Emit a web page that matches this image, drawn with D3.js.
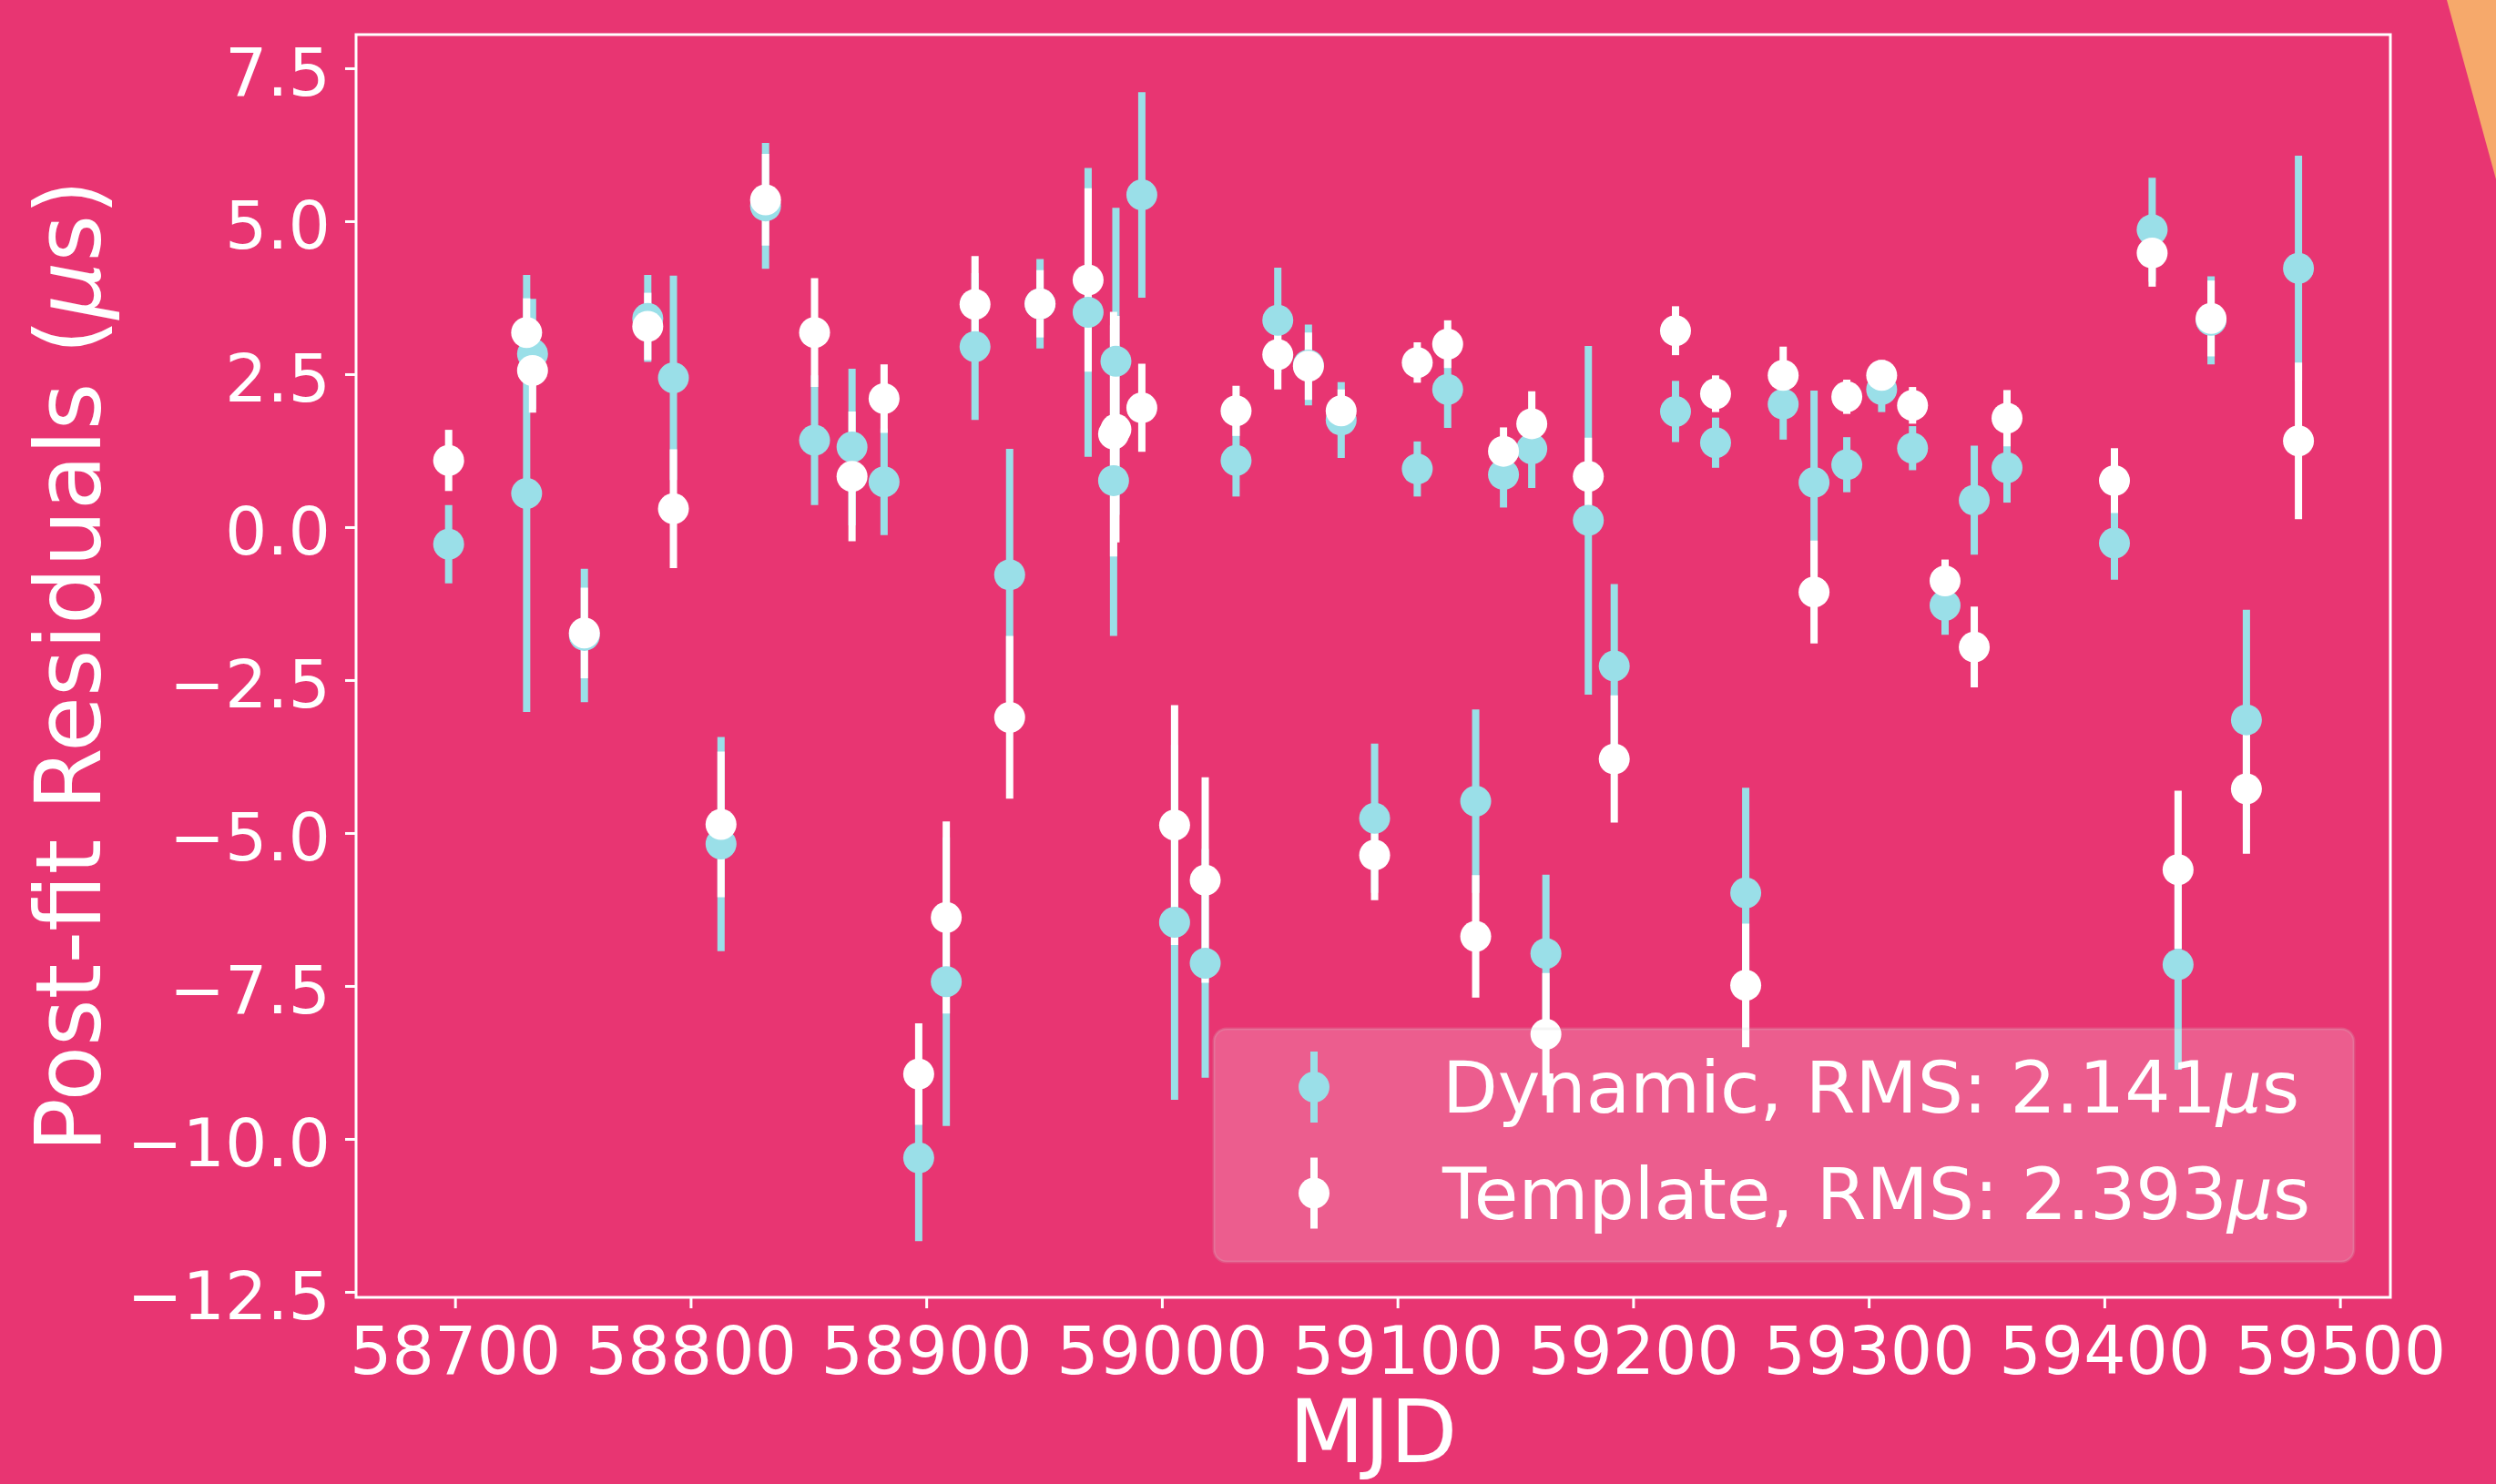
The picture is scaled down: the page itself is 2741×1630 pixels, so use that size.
<!DOCTYPE html>
<html>
<head>
<meta charset="utf-8">
<script src="https://cdn.jsdelivr.net/npm/d3@7"></script>
<style>
  html, body { margin: 0; padding: 0; background: #e83572; }
  svg { display: block; }
</style>
</head>
<body>
<svg id="chart" width="2741" height="1630"></svg>
<script>
// epochs (MJD), shared by both fits
const mjd = [58697.3, 58730.4, 58732.9, 58754.9, 58781.8, 58792.7, 58812.9, 58831.8, 58852.6, 58868.5,
  58882.1, 58896.8, 58908.5, 58920.7, 58935.4, 58948.3, 58968.7, 58979.5, 58980.5, 58991.5,
  59005.4, 59018.4, 59031.5, 59049.2, 59062.2, 59076.1, 59090.3, 59108.4, 59121.3, 59133.2,
  59145.0, 59157.0, 59163.0, 59181.0, 59192.0, 59218.0, 59235.0, 59247.8, 59263.7, 59276.8,
  59290.7, 59305.5, 59318.6, 59332.4, 59344.8, 59358.7, 59404.3, 59420.3, 59431.3, 59445.3,
  59460.3, 59482.4];

// dynamic template residuals (us)
const dynRes = [-0.28, 0.55, 2.83, -1.77, 3.41, 2.44, -5.18, 5.25, 1.42, 1.31,
  0.74, -10.31, -7.43, 2.95, -0.78, 3.65, 3.51, 0.76, 2.71, 5.43,
  -6.46, -7.13, 1.09, 3.38, 2.65, 1.75, -4.76, 0.95, 2.25, -4.48,
  0.86, 1.28, -6.97, 0.11, -2.27, 1.89, 1.38, -5.98, 2.01, 0.73,
  1.02, 2.25, 1.29, -1.28, 0.44, 0.97, -0.26, 4.86, -7.15, 3.38,
  -3.15, 4.23];
const dynErr = [0.64, 3.57, 0.90, 1.09, 0.71, 1.67, 1.75, 1.03, 1.06, 1.28,
  0.87, 1.36, 2.36, 1.20, 2.06, 0.73, 2.36, 2.54, 2.51, 1.68,
  2.90, 1.87, 0.59, 0.86, 0.66, 0.62, 1.22, 0.45, 0.63, 1.50,
  0.54, 0.64, 1.29, 2.85, 1.34, 0.50, 0.41, 1.72, 0.58, 1.50,
  0.45, 0.37, 0.36, 0.48, 0.89, 0.57, 0.60, 0.85, 1.72, 0.72,
  1.80, 1.84];

// fixed template residuals (us)
const tmpRes = [1.09, 3.18, 2.56, -1.73, 3.28, 0.30, -4.86, 5.35, 3.18, 0.83,
  2.10, -8.94, -6.38, 3.64, -3.11, 3.65, 4.04, 1.52, 1.60, 1.95,
  -4.87, -5.77, 1.90, 2.82, 2.63, 1.90, -5.36, 2.69, 2.99, -6.69,
  1.24, 1.69, -8.29, 0.83, -3.79, 3.21, 2.18, -7.49, 2.48, -1.06,
  2.13, 2.48, 1.99, -0.88, -1.96, 1.78, 0.76, 4.48, -5.60, 3.41,
  -4.28, 1.41];
const tmpErr = [0.50, 0.56, 0.69, 0.74, 0.55, 0.97, 1.19, 0.75, 0.89, 1.06,
  0.56, 0.83, 1.57, 0.79, 1.33, 0.55, 1.50, 2.00, 1.85, 0.72,
  1.96, 1.68, 0.41, 0.57, 0.55, 0.35, 0.74, 0.33, 0.39, 1.00,
  0.39, 0.53, 1.00, 0.63, 1.04, 0.40, 0.30, 1.01, 0.47, 0.84,
  0.28, 0.25, 0.30, 0.35, 0.66, 0.46, 0.53, 0.55, 1.29, 0.62,
  1.06, 1.28];

const xTicks = [58700, 58800, 58900, 59000, 59100, 59200, 59300, 59400, 59500];
const yTicks = [7.5, 5.0, 2.5, 0.0, -2.5, -5.0, -7.5, -10.0, -12.5];
const seriesNames = ["Dynamic", "Template"];
const rmsValues = ["2.141", "2.393"];

const BG = "#e83572";
const CYAN = "#9adfe8";
const WHITE = "#ffffff";
const FONT = "DejaVu Sans";

// plot box in pixels
const boxL = 391, boxR = 2625, boxT = 38, boxB = 1425;
const markerR = 17;
const barW = 8;

const svg = d3.select("#chart");

svg.append("rect").attr("width", 2741).attr("height", 1630).attr("fill", BG);

// orange corner shape
svg.append("path")
  .attr("d", "M2687,0 L2741,0 L2741,197 Z")
  .attr("fill", "#f6a96b");

const x = d3.scaleLinear().domain([58658, 59521.4]).range([boxL, boxR]);
const y = d3.scaleLinear().domain([-12.59, 8.05]).range([boxB, boxT]);

const series = [
  { res: dynRes, err: dynErr, color: CYAN },
  { res: tmpRes, err: tmpErr, color: WHITE }
];

// error bars first (dynamic, then template), markers on top
series.forEach(s => {
  svg.append("g").selectAll("line")
    .data(mjd)
    .join("line")
    .attr("x1", (d) => x(d))
    .attr("x2", (d) => x(d))
    .attr("y1", (d, i) => y(s.res[i] + s.err[i]))
    .attr("y2", (d, i) => y(s.res[i] - s.err[i]))
    .attr("stroke", s.color)
    .attr("stroke-width", barW);
});
series.forEach(s => {
  svg.append("g").selectAll("circle")
    .data(mjd)
    .join("circle")
    .attr("cx", (d) => x(d))
    .attr("cy", (d, i) => y(s.res[i]))
    .attr("r", markerR)
    .attr("fill", s.color);
});

// axes
const xAxis = svg.append("g")
  .attr("transform", `translate(0,${boxB})`)
  .call(d3.axisBottom(x).tickValues(xTicks).tickFormat(d3.format("d"))
    .tickSize(12).tickSizeOuter(0).tickPadding(20));
const yAxis = svg.append("g")
  .attr("transform", `translate(${boxL},0)`)
  .call(d3.axisLeft(y).tickValues(yTicks).tickFormat(d3.format(".1f"))
    .tickSize(12).tickSizeOuter(0).tickPadding(16));

[xAxis, yAxis].forEach(a => {
  a.select(".domain").remove();
  a.selectAll(".tick line").attr("stroke", WHITE).attr("stroke-width", 3);
  a.selectAll(".tick text")
    .attr("fill", WHITE)
    .style("font-family", FONT)
    .style("font-size", "73px");
});
yAxis.selectAll(".tick text").attr("dy", "0.4em");

// spines
svg.append("rect")
  .attr("x", boxL).attr("y", boxT)
  .attr("width", boxR - boxL).attr("height", boxB - boxT)
  .attr("fill", "none")
  .attr("stroke", WHITE)
  .attr("stroke-width", 3);

// axis labels
svg.append("text")
  .attr("x", (boxL + boxR) / 2)
  .attr("y", 1606)
  .attr("text-anchor", "middle")
  .attr("fill", WHITE)
  .style("font-family", FONT)
  .style("font-size", "96px")
  .text("MJD");

const yl = svg.append("text")
  .attr("transform", `translate(110,${(boxT + boxB) / 2}) rotate(-90)`)
  .attr("text-anchor", "middle")
  .attr("fill", WHITE)
  .style("font-family", FONT)
  .style("font-size", "99px");
yl.append("tspan").text("Post-fit Residuals (");
yl.append("tspan").style("font-style", "italic").text("\u03bc");
yl.append("tspan").text("s)");

// legend
const legend = svg.append("g");
legend.append("rect")
  .attr("x", 1333).attr("y", 1130)
  .attr("width", 1252).attr("height", 256)
  .attr("rx", 14)
  .attr("fill", "rgba(255,255,255,0.2)")
  .attr("stroke", "rgba(204,204,204,0.2)")
  .attr("stroke-width", 3);

series.forEach((s, i) => {
  const cy = 1194 + i * 116.5;
  legend.append("line")
    .attr("x1", 1443).attr("x2", 1443)
    .attr("y1", cy - 39).attr("y2", cy + 39)
    .attr("stroke", s.color).attr("stroke-width", barW);
  legend.append("circle")
    .attr("cx", 1443).attr("cy", cy).attr("r", markerR)
    .attr("fill", s.color);
  const t = legend.append("text")
    .attr("x", 1584).attr("y", cy + 28)
    .attr("fill", WHITE)
    .style("font-family", FONT)
    .style("font-size", "79px");
  t.append("tspan").text(`${seriesNames[i]}, RMS: ${rmsValues[i]}`);
  t.append("tspan").style("font-style", "italic").text("\u03bc");
  t.append("tspan").text("s");
});
</script>
</body>
</html>
